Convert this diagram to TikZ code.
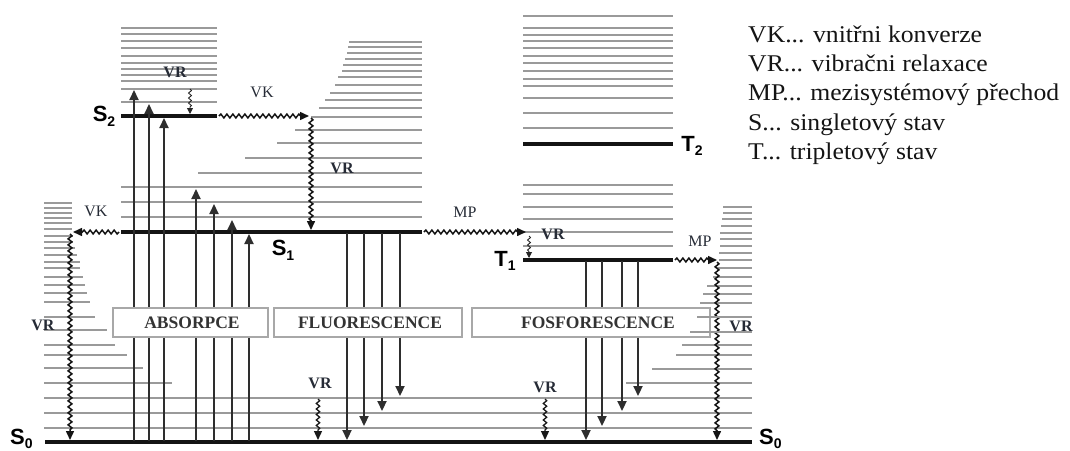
\documentclass[tikz,border=0pt]{standalone}
\usepackage{fontspec}
\setmainfont{Liberation Serif}
\newfontfamily\labfont{Liberation Sans}
\usetikzlibrary{arrows.meta,decorations.pathmorphing}
\definecolor{vib}{HTML}{9A9A9A}
\definecolor{arr}{HTML}{2E2E2E}
\definecolor{txt}{HTML}{262B36}
\definecolor{boxc}{HTML}{A8A8A8}
\definecolor{boxt}{HTML}{333333}
\newcommand{\stlab}[2]{{\labfont\bfseries\fontsize{22}{22}\selectfont #1\raisebox{-0.22em}{\fontsize{14}{14}\selectfont #2}}}
\begin{document}
\begin{tikzpicture}[x=1pt,y=-1pt,
  vibl/.style={draw=vib,line width=2pt},
  statel/.style={draw=black!92,line width=3.6pt},
  arrl/.style={draw=arr,line width=2.2pt,-{Triangle[length=10pt,width=9pt]}},
  wavy/.style={draw=black!92,line width=1.5pt,decorate,decoration={snake,amplitude=1.9pt,segment length=6pt,post length=8pt},-{Triangle[length=9pt,width=8pt]}},
  swavy/.style={draw=black!85,line width=0.9pt,decorate,decoration={snake,amplitude=1.5pt,segment length=5pt,post length=6pt},-{Triangle[length=6pt,width=6pt]}},
  bwavy/.style={draw=black!90,line width=1.3pt,decorate,decoration={snake,amplitude=1.7pt,segment length=5.5pt,post length=8pt},-{Triangle[length=9pt,width=8pt]}},
  vrlab/.style={font=\fontsize{16}{16}\selectfont\bfseries,text=txt,inner sep=0pt},
  vklab/.style={font=\fontsize{16}{16}\selectfont,text=txt,inner sep=0pt},
  procbox/.style={draw=boxc,line width=1.5pt,fill=white},
  proctext/.style={font=\fontsize{17.5}{17.5}\selectfont\bfseries,text=boxt,inner sep=0pt},
  legend/.style={anchor=base west,font=\fontsize{24}{24}\selectfont,text=black!92,inner sep=0pt}
]
\useasboundingbox (0,0) rectangle (1070,450);

% ---- S2 vibrational levels
\foreach \y in {28,34,41,48,56,63,69,75,81,89,102}
  \draw[vibl] (121,\y) -- (217,\y);
% ---- S1 vibrational levels
\foreach \y/\l in {42/349,47/348,53/347,59/345,65/343,71/342,77/338,85/335,93/330,100/325,108/319,117/311,130/295,143/277,158/245,173/198,187/121,202/121,217/121}
  \draw[vibl] (\l,\y) -- (422,\y);
% ---- T levels
\foreach \y in {16,28,35,41,48,56,63,71,79,86,98,113,128,185,194,207,219,232,246}
  \draw[vibl] (523,\y) -- (673,\y);
% ---- S0 left ladder
\foreach \y/\r in {203/72,208/72,213/72,218/72,223/72,229/72,236/73,242/73,248/75,255/77,262/80,268/80,277/83,285/85,293/87,302/90,317/95,330/107,345/115,355/127,368/143,383/172}
  \draw[vibl] (44,\y) -- (\r,\y);
% ---- S0 right ladder
\foreach \y/\l in {207/723,213/723,219/722,226/721,233/720,239/720,246/720,253/719,260/719,268/717,277/713,286/707,294/703,303/700,345/682,355/676,369/652,383/626}
  \draw[vibl] (\l,\y) -- (752,\y);
% ---- S0 full-width levels
\foreach \y in {398,413,428}
  \draw[vibl] (44,\y) -- (752,\y);

% ---- electronic states
\draw[statel] (121,116) -- (217,116);
\draw[statel] (121,232) -- (422,232);
\draw[statel] (523,144) -- (673,144);
\draw[statel] (523,260) -- (673,260);
\draw[statel] (45,442) -- (752,442);

% ---- absorption
\foreach \x/\t in {134/90,149/104,164/118,196/189,214/204,232/220,249/234}
  \draw[arrl] (\x,441) -- (\x,\t);
% ---- fluorescence
\foreach \x/\t in {347/440,364/426,382/411,400/396}
  \draw[arrl] (\x,233) -- (\x,\t);
% ---- phosphorescence
\foreach \x/\t in {586/440,602/426,622/411,638/396}
  \draw[arrl] (\x,261) -- (\x,\t);

% ---- non-radiative processes
\draw[swavy] (190,89) -- (190,114);
\draw[wavy] (219,116) -- (309,116);
\draw[wavy] (311,118) -- (311,230);
\draw[wavy] (119,232) -- (73,232);
\draw[wavy] (70,234) -- (70,440);
\draw[wavy] (424,232) -- (526,232);
\draw[swavy] (529,236) -- (529,258);
\draw[wavy] (675,260) -- (717,260);
\draw[wavy] (717,262) -- (717,440);
\draw[bwavy] (318,399) -- (318,440);
\draw[bwavy] (545,399) -- (545,440);

% ---- process boxes
\draw[procbox] (113,308) rectangle (268,337);
\draw[procbox] (274,308) rectangle (462,337);
\draw[procbox] (472,308) rectangle (710,337);
\node[proctext] (abs) at (192,323) {ABSORPCE};
\node[proctext] (flu) at (370,323) {FLUORESCENCE};
\node[proctext] (fos) at (598,323) {FOSFORESCENCE};
\foreach \y/\l in {317/697,332/690}
  \draw[vibl] (\l,\y) -- (752,\y);

% ---- state labels
\node[inner sep=0pt] (s2) at (104,116) {\stlab{S}{2}};
\node[inner sep=0pt] (s1) at (283,250) {\stlab{S}{1}};
\node[inner sep=0pt] (t2) at (692,146) {\stlab{T}{2}};
\node[inner sep=0pt] (t1) at (505,261) {\stlab{T}{1}};
\node[inner sep=0pt,anchor=base west] (s0a) at (10,444) {\stlab{S}{0}};
\node[inner sep=0pt,anchor=base west] (s0b) at (759,444) {\stlab{S}{0}};

% ---- process labels
\node[vrlab] (vr1) at (175,72) {VR};
\node[vrlab] (vr2) at (342,168) {VR};
\node[vrlab] (vr3) at (43,325) {VR};
\node[vrlab] (vr4) at (553,234) {VR};
\node[vrlab] (vr5) at (741,326) {VR};
\node[vrlab] (vr6) at (320,383) {VR};
\node[vrlab] (vr7) at (545,387) {VR};
\node[vklab] (vk1) at (262,92) {VK};
\node[vklab] (vk2) at (96,211) {VK};
\node[vklab] (mp1) at (465,212) {MP};
\node[vklab] (mp2) at (700,241) {MP};

% ---- legend
\node[legend] (l1) at (748,42) {\scalebox{1.07}[1]{VK... vnitřni konverze}};
\node[legend] (l2) at (748,71) {\scalebox{1.07}[1]{VR... vibračni relaxace}};
\node[legend] (l3) at (748,100) {\scalebox{1.07}[1]{MP... mezisystémový přechod}};
\node[legend] (l4) at (748,130) {\scalebox{1.07}[1]{S... singletový stav}};
\node[legend] (l5) at (748,159) {\scalebox{1.07}[1]{T... tripletový stav}};
\end{tikzpicture}
\end{document}
